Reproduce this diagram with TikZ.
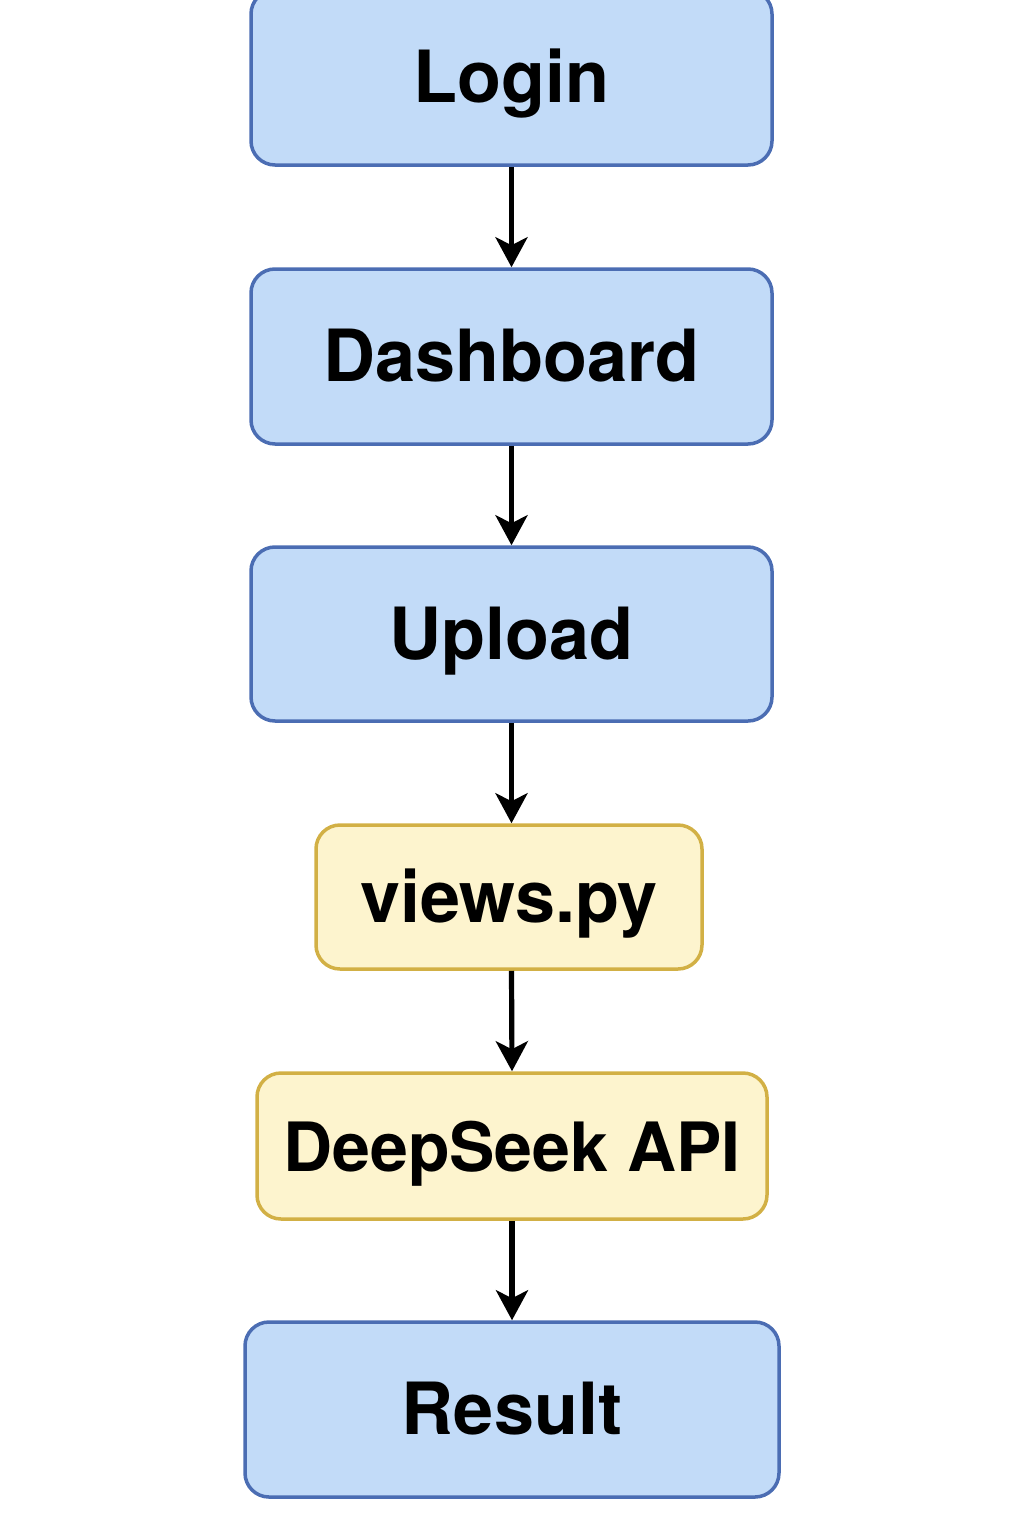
\documentclass[tikz,border=0pt]{standalone}
\usepackage{fontspec}
\setmainfont{TeX Gyre Heros}
\usetikzlibrary{arrows.meta}
\definecolor{bluefill}{HTML}{C2DBF8}
\definecolor{blueline}{HTML}{4B6DB3}
\definecolor{yelfill}{HTML}{FDF4CE}
\definecolor{yelline}{HTML}{D2B045}
\tikzset{
  box/.style={rounded corners=12pt, line width=1.75pt, inner sep=0pt,
    text height=34pt, text depth=9pt,
    font=\fontsize{36}{40}\selectfont\bfseries, text=black},
  bluebox/.style={box, fill=bluefill, draw=blueline},
  yelbox/.style={box, fill=yelfill, draw=yelline},
  flow/.style={line width=2.6pt, -{Stealth[length=15pt, width=16pt, inset=4pt]}},
}
\begin{document}
\begin{tikzpicture}[x=0.5pt, y=-0.5pt]
\useasboundingbox (0,0) rectangle (1024,1536);
\node[bluebox, minimum width=260.5pt, minimum height=87.5pt] (login) at (511.5,77.5) {Login};
\node[bluebox, minimum width=260.5pt, minimum height=87.5pt] (dash) at (511.5,356.5) {Dashboard};
\node[bluebox, minimum width=260.5pt, minimum height=87pt] (upload) at (511.5,634) {Upload};
\node[yelbox, minimum width=193pt, minimum height=72pt] (views) at (509,897) {views.py};
\node[yelbox, minimum width=255pt, minimum height=73pt, font=\fontsize{34}{40}\selectfont\bfseries] (api) at (512,1146) {DeepSeek API};
\node[bluebox, minimum width=267pt, minimum height=87.5pt] (result) at (512,1409.5) {Result};
\draw[flow] (login.south) -- (dash.north);
\draw[flow] (dash.south) -- (upload.north);
\draw[flow] (upload.south) -- (upload.south |- views.north);
\draw[flow] (upload.south |- views.south) -- (api.north);
\draw[flow] (api.south) -- (result.north);
\end{tikzpicture}
\end{document}
